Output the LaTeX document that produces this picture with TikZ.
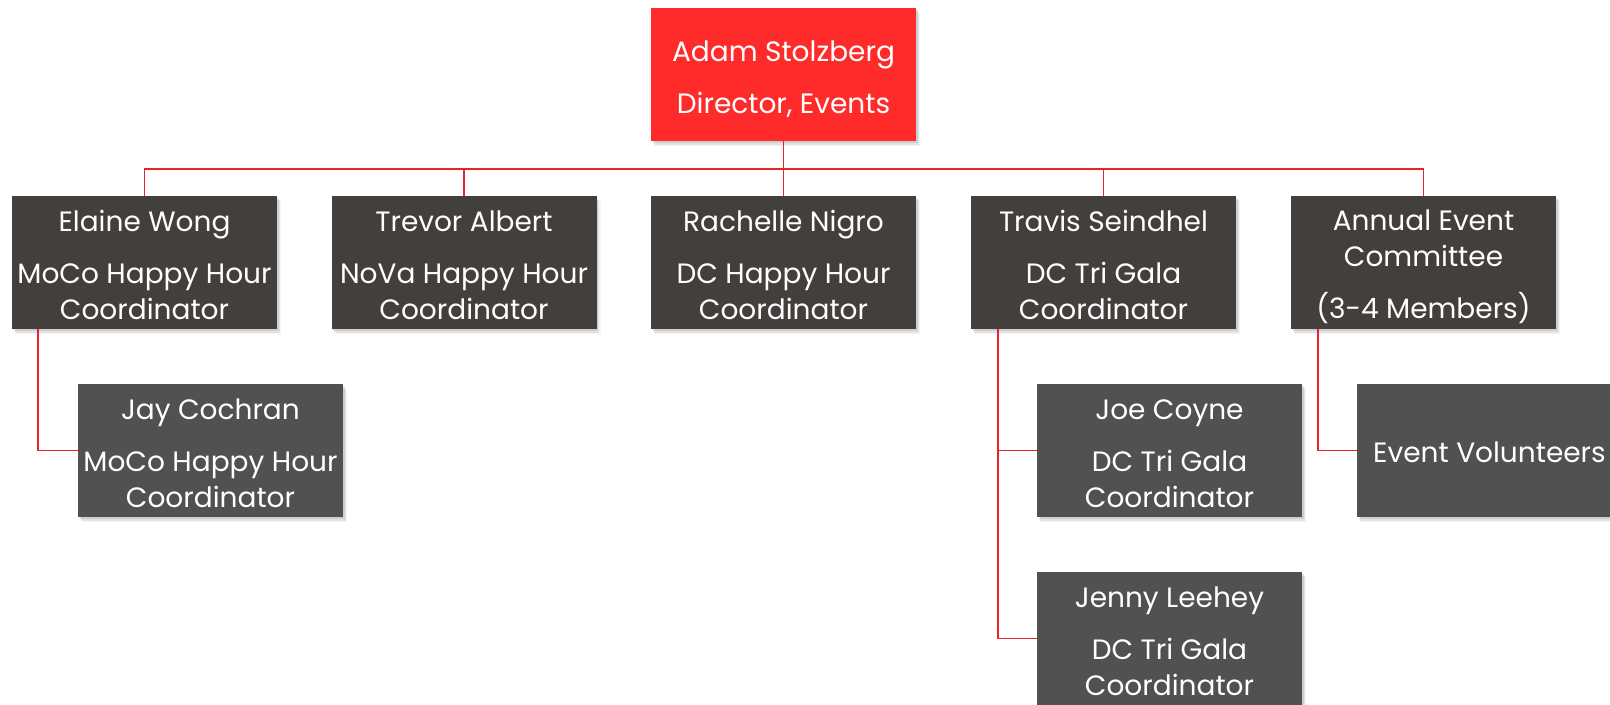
\documentclass[tikz,border=0pt]{standalone}
\usepackage{fontspec}
\setmainfont{Poppins}
\usetikzlibrary{shadows,calc}

\definecolor{headred}{RGB}{255,43,43}
\definecolor{leadgray}{RGB}{67,63,61}
\definecolor{subgray}{RGB}{81,81,81}
\definecolor{linkred}{RGB}{232,36,40}

% stacked, centred lines; the node's baseline is the first line
\newcommand\cardtext[1]{\vtop{\baselineskip=27pt\halign{\hfil##\hfil\cr #1\crcr}}}
\newcommand\gap{\noalign{\vskip 12pt}}

\begin{document}
\begin{tikzpicture}[x=0.75pt,y=-0.75pt,
  card/.style={rectangle, inner sep=0pt, minimum width=198.75pt, minimum height=99.75pt,
    text=white, font=\fontsize{21}{27}\selectfont,
    drop shadow={shadow xshift=3pt, shadow yshift=-4pt, opacity=.08},
    drop shadow={shadow xshift=2.2pt, shadow yshift=-3pt, opacity=.14},
    drop shadow={shadow xshift=1.2pt, shadow yshift=-1.8pt, opacity=.22}},
  threeline/.style={text height=6pt, text depth=52.5pt},
  headcard/.style={card, fill=headred, text height=6pt, text depth=26.25pt},
  leadcard/.style={card, fill=leadgray},
  subcard/.style={card, fill=subgray},
  link/.style={draw=linkred, line width=1.3pt}]

\useasboundingbox (0,0) rectangle (1610,704);
\clip (0,0) rectangle (1610,704);
\fill[white] (0,0) rectangle (1610,704);

% director
\node[headcard] (adam) at (783.5,74.5)
  {\cardtext{Adam Stolzberg\cr\gap Director, Events}};

% first level
\node[leadcard, threeline] (elaine) at (144.5,262.5)
  {\cardtext{Elaine Wong\cr\gap MoCo Happy Hour\cr Coordinator}};
\node[leadcard, threeline] (trevor) at (464,262.5)
  {\cardtext{Trevor Albert\cr\gap NoVa Happy Hour\cr Coordinator}};
\node[leadcard, threeline] (rachelle) at (783.5,262.5)
  {\cardtext{Rachelle Nigro\cr\gap DC Happy Hour\cr Coordinator}};
\node[leadcard, threeline] (travis) at (1103.5,262.5)
  {\cardtext{Travis Seindhel\cr\gap DC Tri Gala\cr Coordinator}};
\node[leadcard, text height=6pt, text depth=54pt] (annual) at (1423.5,262.5)
  {\cardtext{Annual Event\cr Committee\cr\gap (3-4 Members)}};

% second level
\node[subcard, threeline] (jay) at (210.5,450.5)
  {\cardtext{Jay Cochran\cr\gap MoCo Happy Hour\cr Coordinator}};
\node[subcard, threeline] (joe) at (1169.5,450.5)
  {\cardtext{Joe Coyne\cr\gap DC Tri Gala\cr Coordinator}};
\node[subcard, threeline] (jenny) at (1169.5,638.5)
  {\cardtext{Jenny Leehey\cr\gap DC Tri Gala\cr Coordinator}};
\node[subcard, text height=24pt, text depth=6pt] (volunteers) at (1489.5,450.5)
  {Event Volunteers};

% connectors
\coordinate (bus) at (783.5,169);
\draw[link] (adam.south) -- (rachelle.north);
\draw[link] (elaine.north) |- (bus) -| (annual.north);
\draw[link] (trevor.north) -- (trevor.north |- bus);
\draw[link] (travis.north) -- (travis.north |- bus);

\draw[link] ($(elaine.south west)+(26,0)$) |- (jay.west);
\draw[link] ($(travis.south west)+(27,0)$) |- (jenny.west);
\draw[link] ($(travis.south west)+(27,0)$) |- (joe.west);
\draw[link] ($(annual.south west)+(27,0)$) |- (volunteers.west);
\end{tikzpicture}
\end{document}
